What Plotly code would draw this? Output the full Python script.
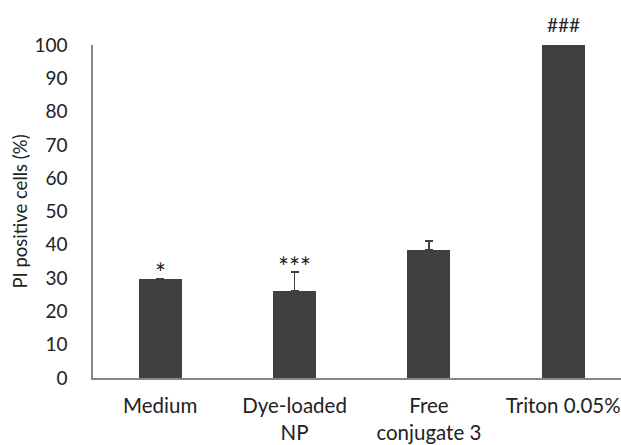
import plotly.graph_objects as go

# Data
categories = ["Medium", "Dye-loaded<br>NP", "Free<br>conjugate 3", "Triton 0.05%"]
pi_positive = [29.6, 26.1, 38.5, 100.0]
err_plus = [0.3, 5.8, 2.7, 0.0]
significance = ["*", "***", "", "###"]
y_ticks = [0, 10, 20, 30, 40, 50, 60, 70, 80, 90, 100]

bar_color = "#404040"
axis_color = "#868686"
text_color = "#222222"
font_family = "Lato, Open Sans, sans-serif"

fig = go.Figure()
fig.add_trace(go.Bar(
    x=list(range(len(categories))),
    y=pi_positive,
    width=0.32,
    marker=dict(color=bar_color, line=dict(width=0)),
    error_y=dict(type="data", symmetric=False, array=err_plus,
                 arrayminus=[0] * len(err_plus),
                 color=bar_color, thickness=1.5, width=4),
    showlegend=False,
))

# Significance markers above each bar (asterisk glyphs sit high, hashes sit low)
for i, (v, e, s) in enumerate(zip(pi_positive, err_plus, significance)):
    if not s:
        continue
    is_hash = s.startswith("#")
    fig.add_annotation(
        x=i, y=v + e, text=s, showarrow=False, yanchor="bottom",
        yshift=7 if is_hash else -13,
        font=dict(family=font_family, size=19 if is_hash else 26, color=text_color),
    )

fig.update_layout(
    width=621, height=445,
    margin=dict(l=93, r=0, t=45, b=67),
    paper_bgcolor="white", plot_bgcolor="white",
    font=dict(family=font_family, size=18, color=text_color),
    bargap=0,
)
fig.update_xaxes(
    range=[-0.5, 3.43],
    tickmode="array", tickvals=list(range(len(categories))), ticktext=categories,
    showline=True, linecolor=axis_color, linewidth=1.5,
    showgrid=False, zeroline=False, ticks="", ticklabelstandoff=9,
    tickfont=dict(size=20.5, color=text_color),
)
fig.update_yaxes(
    range=[0, 100], tickvals=y_ticks,
    showline=True, linecolor=axis_color, linewidth=1.5,
    showgrid=False, zeroline=False, ticks="", ticklabelstandoff=20,
    tickfont=dict(size=19, color=text_color),
    title=dict(text="PI positive cells (%)", font=dict(size=18.5, color=text_color), standoff=2),
)

fig.write_html("out.html")
